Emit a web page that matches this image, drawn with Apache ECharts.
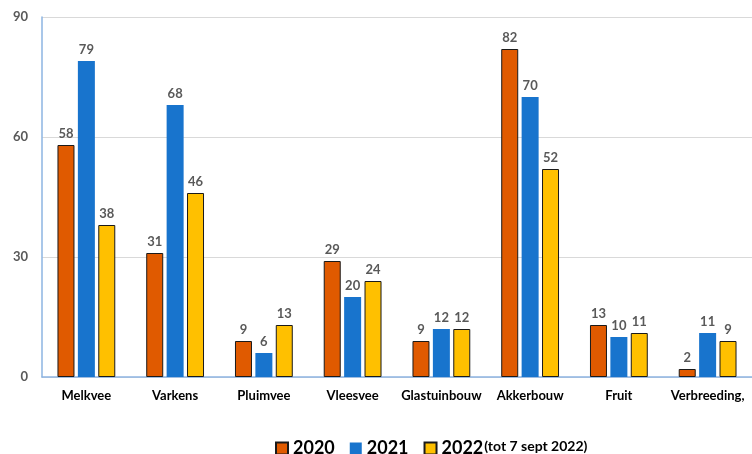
<!DOCTYPE html>
<html>
<head>
<meta charset="utf-8">
<script src="https://cdn.jsdelivr.net/npm/echarts@6/dist/echarts.min.js"></script>
<style>html,body{margin:0;padding:0;background:#fff;}#c{width:752px;height:454px;}</style>
</head>
<body>
<div id="c"></div>
<script>
const categories = ['Melkvee','Varkens','Pluimvee','Vleesvee','Glastuinbouw','Akkerbouw','Fruit','Verbreeding,'];
const v2020 = [58,31,9,29,9,82,13,2];
const v2021 = [79,68,6,20,12,70,10,11];
const v2022 = [38,46,13,24,12,52,11,9];
const yTicks = {min:0, max:90, interval:30};

const FONT = 'Lato';
const labelCfg = {show:true, position:'top', distance:5, color:'#595959', fontFamily:FONT, fontWeight:'bold', fontSize:13};

const chart = echarts.init(document.getElementById('c'));
chart.setOption({
  animation:false,
  grid:{left:42, top:17, width:716, height:360, containLabel:false},
  legend:{
    top:434, left:270, itemWidth:12, itemHeight:12, itemGap:15, icon:'rect',
    textStyle:{fontFamily:FONT, fontWeight:'bold', fontSize:18, color:'#000',
      rich:{a:{fontFamily:FONT, fontWeight:'bold', fontSize:18, color:'#000'},
            b:{fontFamily:FONT, fontWeight:'bold', fontSize:14, color:'#000', verticalAlign:'top', padding:[0,0,5,1]}}},
    formatter:function(n){ return n==='2022' ? '{a|2022}{b|(tot 7 sept 2022)}' : n; },
    data:['2020','2021','2022']
  },
  xAxis:{type:'category', data:categories,
    axisLine:{lineStyle:{color:'#8DB4E2', width:1.5}}, axisTick:{show:false},
    axisLabel:{color:'#000', fontFamily:FONT, fontWeight:'bold', fontSize:13, margin:12, interval:0}},
  yAxis:{type:'value', min:yTicks.min, max:yTicks.max, interval:yTicks.interval,
    axisLine:{show:true, lineStyle:{color:'#8DB4E2', width:1.5}}, axisTick:{show:false},
    splitLine:{lineStyle:{color:'#D9D9D9'}},
    axisLabel:{color:'#595959', fontFamily:FONT, fontWeight:'bold', fontSize:13, margin:14}},
  series:[
    {name:'2020', type:'bar', data:v2020, barWidth:17, barGap:'20%',
      itemStyle:{color:'#E05A00', borderColor:'#1a1a1a', borderWidth:1}, label:labelCfg},
    {name:'2021', type:'bar', data:v2021, barWidth:17, barGap:'20%',
      itemStyle:{color:'#1874CD'}, label:labelCfg},
    {name:'2022', type:'bar', data:v2022, barWidth:17, barGap:'20%',
      itemStyle:{color:'#FFC000', borderColor:'#1a1a1a', borderWidth:1}, label:labelCfg}
  ]
});
</script>
</body>
</html>
